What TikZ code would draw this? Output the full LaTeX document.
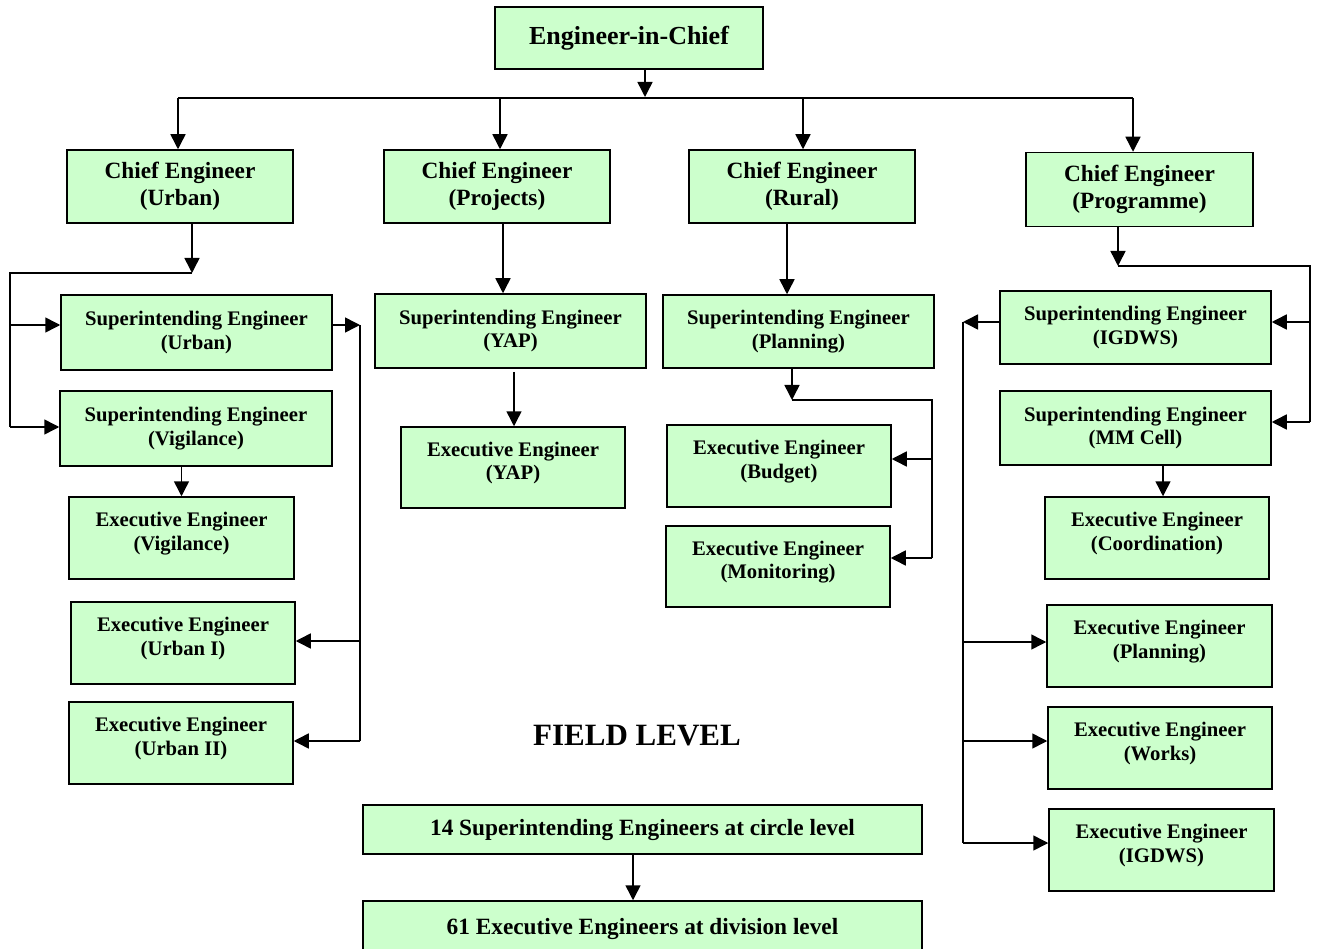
\documentclass[tikz,border=0pt]{standalone}
\usepackage{fontspec}
\setmainfont{Liberation Serif}
\usetikzlibrary{arrows.meta}
\definecolor{boxgreen}{HTML}{CCFFCC}
\tikzset{
  box/.style={draw=black, line width=1.5pt, fill=boxgreen, inner sep=0pt, align=center, font=\bfseries},
  big/.style={font=\fontsize{26}{30}\selectfont\bfseries},
  ce/.style={font=\fontsize{23.3}{27}\selectfont\bfseries},
  se/.style={font=\fontsize{20.7}{23.5}\selectfont\bfseries},
  fl/.style={font=\fontsize{23.3}{27}\selectfont\bfseries},
  ln/.style={line width=1.5pt, draw=black},
  arr/.style={ln, -{Triangle[length=15pt,width=15pt]}},
}
\begin{document}
\begin{tikzpicture}[x=1pt,y=-1pt]
\useasboundingbox (0,0) rectangle (1317,949);
\clip (0,0) rectangle (1317,949);
% nodes
\node[box,big,minimum width=268pt,minimum height=62pt] (eic) at (629,38) {Engineer-in-Chief};
\node[box,ce,minimum width=226pt,minimum height=73pt] (ceu) at (180,186.5) {Chief Engineer\\(Urban)};
\node[box,ce,minimum width=226pt,minimum height=73pt] (cep) at (497,186.5) {Chief Engineer\\(Projects)};
\node[box,ce,minimum width=226pt,minimum height=73pt] (cer) at (802,186.5) {Chief Engineer\\(Rural)};
\node[box,ce,minimum width=227pt,minimum height=74pt] (ceg) at (1139.5,189.5) {Chief Engineer\\(Programme)};
\node[box,se,minimum width=271pt,minimum height=75pt] (seu) at (196.5,332.5) {Superintending Engineer\\(Urban)};
\node[box,se,minimum width=272pt,minimum height=75pt] (sev) at (196,428.5) {Superintending Engineer\\(Vigilance)};
\node[box,se,minimum width=225pt,minimum height=82pt] (eev) at (181.5,538) {Executive Engineer\\(Vigilance)\\[-10pt]};
\node[box,se,minimum width=224pt,minimum height=82pt] (eeu1) at (183,643) {Executive Engineer\\(Urban I)\\[-10pt]};
\node[box,se,minimum width=224pt,minimum height=82pt] (eeu2) at (181,743) {Executive Engineer\\(Urban II)\\[-10pt]};
\node[box,se,minimum width=271pt,minimum height=74pt] (sey) at (510.5,331) {Superintending Engineer\\(YAP)};
\node[box,se,minimum width=224pt,minimum height=81pt] (eey) at (513,467.5) {Executive Engineer\\(YAP)\\[-10pt]};
\node[box,se,minimum width=271pt,minimum height=73pt] (sep) at (798.5,331.5) {Superintending Engineer\\(Planning)};
\node[box,se,minimum width=224pt,minimum height=82pt] (eeb) at (779,466) {Executive Engineer\\(Budget)\\[-10pt]};
\node[box,se,minimum width=224pt,minimum height=81pt] (eem) at (778,566.5) {Executive Engineer\\(Monitoring)\\[-10pt]};
\node[box,se,minimum width=271pt,minimum height=73pt] (sei) at (1135.5,327.5) {Superintending Engineer\\(IGDWS)};
\node[box,se,minimum width=271pt,minimum height=74pt] (sem) at (1135.5,428) {Superintending Engineer\\(MM Cell)};
\node[box,se,minimum width=224pt,minimum height=82pt] (eec) at (1157,538) {Executive Engineer\\(Coordination)\\[-10pt]};
\node[box,se,minimum width=225pt,minimum height=82pt] (eep) at (1159.5,646) {Executive Engineer\\(Planning)\\[-10pt]};
\node[box,se,minimum width=224pt,minimum height=82pt] (eew) at (1160,748) {Executive Engineer\\(Works)\\[-10pt]};
\node[box,se,minimum width=225pt,minimum height=82pt] (eei) at (1161.5,850) {Executive Engineer\\(IGDWS)\\[-10pt]};
\node[font=\fontsize{31}{35}\selectfont\bfseries] (field) at (637,736) {FIELD LEVEL};
\node[box,fl,minimum width=559pt,minimum height=49pt] (se14) at (642.5,829.5) {14 Superintending Engineers at circle level};
\node[box,fl,minimum width=559pt,minimum height=64pt,text depth=14pt] (ee61) at (642.5,933) {61 Executive Engineers at division level};
% coordinates
\coordinate (busc) at (645,97);
\coordinate (busL) at (178,98);
\coordinate (busR) at (1133,98);
\coordinate (bP) at (500,98);
\coordinate (bR) at (803,98);
\coordinate (uA) at (192,273);
\coordinate (uL) at (10,273);
\coordinate (uL1) at (10,325);
\coordinate (uL2) at (10,427);
\coordinate (uR1) at (360,325);
\coordinate (uR2) at (360,641);
\coordinate (uR3) at (360,741);
\coordinate (yA) at (514,372);
\coordinate (pA) at (792,400);
\coordinate (pR) at (932,400);
\coordinate (pR1) at (932,459);
\coordinate (pR2) at (932,558);
\coordinate (gA) at (1118,266);
\coordinate (gR) at (1310,266);
\coordinate (gR1) at (1310,322);
\coordinate (gR2) at (1310,422);
\coordinate (gL) at (963,322);
\coordinate (gL1) at (963,642);
\coordinate (gL2) at (963,741);
\coordinate (gL3) at (963,843);
% connectors
\draw[arr] (eic.south -| busc) -- (busc);
\draw[ln] (busL) -- (busR);
\draw[arr] (busL) -- (busL |- ceu.north);
\draw[arr] (bP) -- (bP |- cep.north);
\draw[arr] (bR) -- (bR |- cer.north);
\draw[arr] (busR) -- (busR |- ceg.north);
% urban
\draw[arr] (ceu.south -| uA) -- (uA);
\draw[ln] (uA) -- (uL) -- (uL2);
\draw[arr] (uL1) -- (seu.west |- uL1);
\draw[arr] (uL2) -- (sev.west |- uL2);
\draw[arr] (seu.east |- uR1) -- (uR1);
\draw[ln] (uR1) -- (uR3);
\draw[arr] (uR2) -- (eeu1.east |- uR2);
\draw[arr] (uR3) -- (eeu2.east |- uR3);
\draw[arr] (sev.south -| eev.north) -- (eev.north);
% projects
\draw[arr] (cep.south -| 503,0) -- (sey.north -| 503,0);
\draw[arr] (yA) -- (yA |- eey.north);
% rural
\draw[arr] (cer.south -| 787,0) -- (sep.north -| 787,0);
\draw[arr] (sep.south -| pA) -- (pA);
\draw[ln] (pA) -- (pR) -- (pR2);
\draw[arr] (pR1) -- (eeb.east |- pR1);
\draw[arr] (pR2) -- (eem.east |- pR2);
% programme
\draw[arr] (ceg.south -| gA) -- (gA);
\draw[ln] (gA) -- (gR) -- (gR2);
\draw[arr] (gR1) -- (sei.east |- gR1);
\draw[arr] (gR2) -- (sem.east |- gR2);
\draw[arr] (sei.west |- gL) -- (gL);
\draw[ln] (gL) -- (gL3);
\draw[arr] (gL1) -- (eep.west |- gL1);
\draw[arr] (gL2) -- (eew.west |- gL2);
\draw[arr] (gL3) -- (eei.west |- gL3);
\draw[arr] (sem.south -| 1163,0) -- (eec.north -| 1163,0);
% field
\draw[arr] (se14.south -| 633,0) -- (ee61.north -| 633,0);
\end{tikzpicture}
\end{document}
